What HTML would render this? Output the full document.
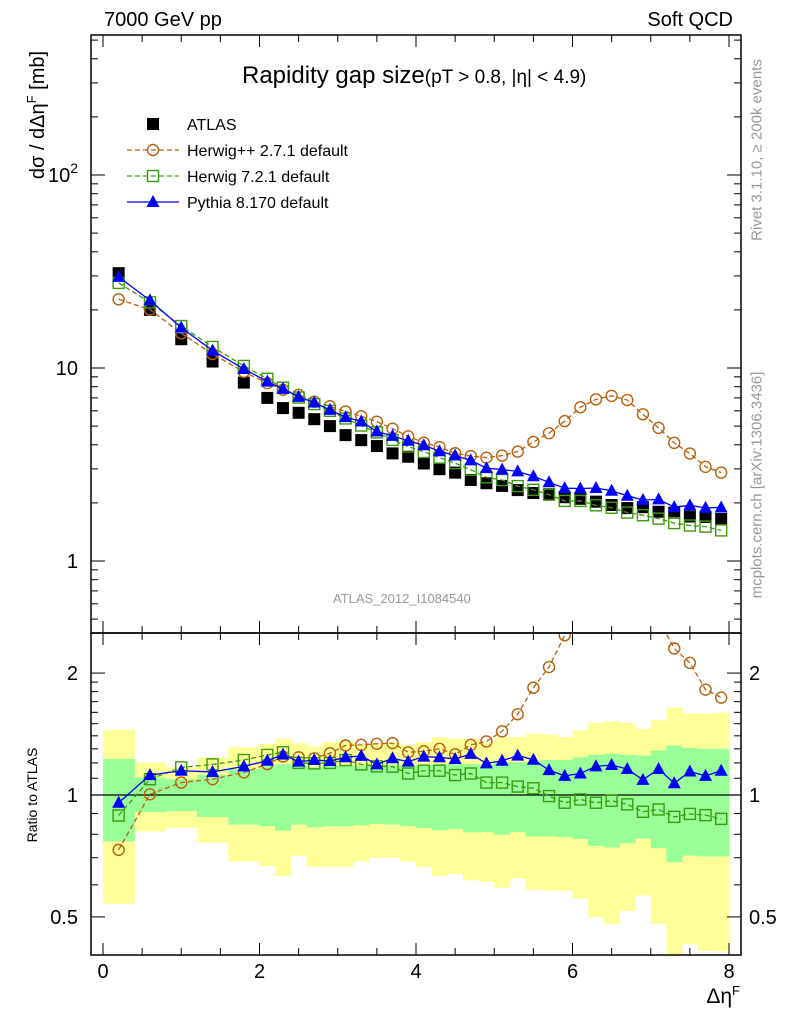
<!DOCTYPE html>
<html><head><meta charset="utf-8"><style>
body{margin:0;background:#fff;}
svg{display:block;font-family:"Liberation Sans",sans-serif;}
</style></head><body>
<svg id="c" width="786" height="1024" viewBox="0 0 786 1024"></svg>
<script>
const binEdges=[0,0.4,0.8,1.2,1.6,2.0,2.2,2.4,2.6,2.8,3.0,3.2,3.4,3.6,3.8,4.0,4.2,4.4,4.6,4.8,5.0,5.2,5.4,5.6,5.8,6.0,6.2,6.4,6.6,6.8,7.0,7.2,7.4,7.6,7.8,8.0];
const atlasData=[31,20,14.1,10.8,8.4,7.0,6.2,5.86,5.43,5.0,4.49,4.23,3.94,3.61,3.47,3.2,2.99,2.87,2.63,2.53,2.45,2.33,2.25,2.22,2.14,2.10,2.03,1.95,1.88,1.90,1.80,1.78,1.70,1.69,1.65];
const ratioHerwigPP=[0.732,1.004,1.073,1.094,1.137,1.192,1.244,1.239,1.232,1.268,1.325,1.33,1.338,1.343,1.275,1.282,1.3,1.26,1.33,1.356,1.436,1.583,1.84,2.07,2.48,2.98,3.39,3.68,3.63,3.03,2.72,2.30,2.12,1.82,1.74];
const ratioHerwig7=[0.89,1.094,1.17,1.19,1.22,1.256,1.275,1.2,1.197,1.2,1.22,1.19,1.177,1.175,1.13,1.148,1.148,1.12,1.13,1.073,1.073,1.049,1.039,0.994,0.957,0.975,0.957,0.968,0.948,0.909,0.921,0.883,0.898,0.892,0.873];
const ratioPythia=[0.957,1.12,1.148,1.14,1.177,1.215,1.258,1.209,1.22,1.213,1.239,1.249,1.19,1.232,1.209,1.244,1.239,1.227,1.263,1.197,1.215,1.251,1.222,1.152,1.115,1.13,1.177,1.186,1.159,1.09,1.159,1.069,1.143,1.115,1.148];
const bandTotalHi=[1.45,1.204,1.17,1.239,1.312,1.338,1.377,1.343,1.317,1.35,1.356,1.338,1.343,1.35,1.33,1.35,1.39,1.377,1.377,1.35,1.39,1.39,1.417,1.409,1.39,1.444,1.506,1.52,1.506,1.458,1.529,1.645,1.589,1.589,1.598];
const bandTotalLo=[0.539,0.813,0.829,0.763,0.685,0.668,0.631,0.708,0.665,0.663,0.663,0.685,0.7,0.7,0.685,0.663,0.632,0.638,0.616,0.61,0.59,0.622,0.584,0.58,0.58,0.555,0.499,0.48,0.517,0.565,0.48,0.396,0.428,0.412,0.411];
const bandStatHi=[1.227,1.105,1.094,1.122,1.159,1.181,1.192,1.181,1.17,1.181,1.186,1.181,1.188,1.186,1.181,1.186,1.192,1.192,1.192,1.188,1.204,1.204,1.211,1.22,1.22,1.239,1.256,1.263,1.256,1.251,1.287,1.325,1.305,1.3,1.3];
const bandStatLo=[0.768,0.907,0.912,0.882,0.845,0.837,0.816,0.845,0.832,0.837,0.837,0.842,0.848,0.845,0.837,0.829,0.818,0.824,0.809,0.81,0.798,0.81,0.79,0.79,0.787,0.778,0.749,0.742,0.76,0.78,0.739,0.682,0.709,0.705,0.705];
const xTickLabels=["0","2","4","6","8"];

const NS="http://www.w3.org/2000/svg";
const svg=document.getElementById('c');
function el(tag,attrs,parent){const e=document.createElementNS(NS,tag);for(const k in attrs)e.setAttribute(k,attrs[k]);(parent||svg).appendChild(e);return e;}
const X0=91,X1=741;
function xs(v){return 103+v*78.25;}
const MT=35,MB=633,RT=633,RB=955;
function ym(v){return 561-193*Math.log10(v);}
function yr(v){return 795-405*Math.log10(v);}
const centers=binEdges.slice(0,-1).map((e,i)=>(e+binEdges[i+1])/2);

const defs=el('defs',{});
const cm=el('clipPath',{id:'cm'},defs);el('rect',{x:X0,y:MT,width:X1-X0,height:MB-MT},cm);
const cr=el('clipPath',{id:'cr'},defs);el('rect',{x:X0,y:RT,width:X1-X0,height:RB-RT},cr);

const gr=el('g',{'clip-path':'url(#cr)'});


for(let i=0;i<centers.length;i++){
  const r=el('rect',{x:xs(binEdges[i]),width:xs(binEdges[i+1])-xs(binEdges[i])+0.5,y:yr(bandTotalHi[i]),height:yr(bandTotalLo[i])-yr(bandTotalHi[i]),fill:'#ffff99'},gr);
  
  
}
for(let i=0;i<centers.length;i++){
  const r=el('rect',{x:xs(binEdges[i]),width:xs(binEdges[i+1])-xs(binEdges[i])+0.5,y:yr(bandStatHi[i]),height:yr(bandStatLo[i])-yr(bandStatHi[i]),fill:'#99ff99'},gr);
  
  
}
el('line',{x1:X0,x2:X1,y1:yr(1),y2:yr(1),stroke:'#000','stroke-width':1.3},gr);

function marker(type,x,y,color,parent){
  if(type==='circle')return el('circle',{cx:x,cy:y,r:5.5,fill:'none',stroke:color,'stroke-width':1.4},parent);
  if(type==='square')return el('rect',{x:x-5.5,y:y-5.5,width:11,height:11,fill:'none',stroke:color,'stroke-width':1.4},parent);
  if(type==='tri')return el('polygon',{points:`${x},${y-7} ${x-6.5},${y+5} ${x+6.5},${y+5}`,fill:color},parent);
  if(type==='fsq')return el('rect',{x:x-6,y:y-6,width:12,height:12,fill:'#000'},parent);
}
function series(vals,yfun,color,type,dash,parent,name){
  const g=el('g',{},parent);
  
  
  if(type!=='fsq'){
    const pts=vals.map((v,i)=>xs(centers[i])+','+yfun(v)).join(' ');
    el('polyline',{points:pts,fill:'none',stroke:color,'stroke-width':1.3,'stroke-dasharray':dash||'none'},g);
  }
  vals.forEach((v,i)=>{const m=marker(type,xs(centers[i]),yfun(v),color,g);
    
    });
}
const cH='#b8600c',cG='#3c9a0c',cP='#0000ff';
series(ratioHerwigPP,yr,cH,'circle','5,3',gr,'ratio-herwigpp');
series(ratioHerwig7,yr,cG,'square','5,3',gr,'ratio-herwig7');
series(ratioPythia,yr,cP,'tri',null,gr,'ratio-pythia');

const gm=el('g',{'clip-path':'url(#cm)'});


series(atlasData,ym,'#000','fsq',null,gm,'atlas-data');
series(atlasData.map((d,i)=>d*ratioHerwigPP[i]),ym,cH,'circle','5,3',gm,'herwigpp-series');
series(atlasData.map((d,i)=>d*ratioHerwig7[i]),ym,cG,'square','5,3',gm,'herwig7-series');
series(atlasData.map((d,i)=>d*ratioPythia[i]),ym,cP,'tri',null,gm,'pythia-series');

el('rect',{x:X0,y:MT,width:X1-X0,height:MB-MT,fill:'none',stroke:'#000','stroke-width':1.5});
el('rect',{x:X0,y:RT,width:X1-X0,height:RB-RT,fill:'none',stroke:'#000','stroke-width':1.5});
for(let v=0;v<=8.01;v+=0.5){
  const x=xs(v),L=(Math.abs(v%2)<0.01)?12:7;
  [[MT,1],[MB,-1],[RT,1],[RB,-1]].forEach(([y,d])=>el('line',{x1:x,x2:x,y1:y,y2:y+d*L,stroke:'#000','stroke-width':1}));
}
xTickLabels.forEach((t,i)=>{const e=el('text',{x:xs(i*2),y:978,'font-size':20,'text-anchor':'middle'});e.textContent=t;
  
  });
for(let d=-1;d<=2;d++){for(let m=1;m<10;m++){const v=m*Math.pow(10,d);const y=ym(v);if(y<MT||y>MB)continue;const L=m===1?14:7;
  el('line',{x1:X0,x2:X0+L,y1:y,y2:y,stroke:'#000'});el('line',{x1:X1,x2:X1-L,y1:y,y2:y,stroke:'#000'});}}
[['1',1],['10',10]].forEach(([t,v])=>{const e=el('text',{x:78,y:ym(v)+7,'font-size':20,'text-anchor':'end'});e.textContent=t;
  });
{const e=el('text',{x:78,y:ym(100)+7,'font-size':20,'text-anchor':'end'});e.innerHTML='10<tspan dy="-9" font-size="14">2</tspan>';
 }
[0.5,0.6,0.7,0.8,0.9,1,1.1,1.2,1.3,1.4,1.5,1.6,1.7,1.8,1.9,2].forEach(v=>{const y=yr(v);const L=(v===0.5||v===1||v===2)?14:7;
  el('line',{x1:X0,x2:X0+L,y1:y,y2:y,stroke:'#000'});el('line',{x1:X1,x2:X1-L,y1:y,y2:y,stroke:'#000'});});
[['2',2],['1',1],['0.5',0.5]].forEach(([t,v])=>{
  const a=el('text',{x:78,y:yr(v)+7,'font-size':20,'text-anchor':'end'});a.textContent=t;
  
  const b=el('text',{x:749,y:yr(v)+7,'font-size':20,'text-anchor':'start'});b.textContent=t;
  });

const leg=el('g',{});


const legItems=[['ATLAS','fsq','#000',null],['Herwig++ 2.7.1 default','circle',cH,'5,3'],['Herwig 7.2.1 default','square',cG,'5,3'],['Pythia 8.170 default','tri',cP,null]];
legItems.forEach((it,i)=>{const y=124+i*26;
  const g=el('g',{},leg);
  
  
  if(it[1]!=='fsq')el('line',{x1:127,x2:179,y1:y,y2:y,stroke:it[2],'stroke-width':1.3,'stroke-dasharray':it[3]||'none'},g);
  marker(it[1],153,y,it[2],g);
  const t=el('text',{x:187,y:y+6,'font-size':16},g);t.textContent=it[0];});
</script>
<div style="position:absolute;left:0;top:0;width:786px;height:1024px;pointer-events:none;font-family:'Liberation Sans',sans-serif;">
<div style="position:absolute;left:104px;top:9px;font-size:20px;">7000 GeV pp</div>
<div style="position:absolute;right:53px;top:9px;font-size:20px;">Soft QCD</div>
<div style="position:absolute;left:242px;top:62px;font-size:24px;white-space:nowrap;">Rapidity gap size<span style="font-size:19px;">(pT &gt; 0.8, |η| &lt; 4.9)</span></div>
<div style="position:absolute;left:333px;top:591px;font-size:13px;color:#999;">ATLAS_2012_I1084540</div>
<div style="position:absolute;right:46px;top:983px;font-size:21px;">Δη<sup style="font-size:13px;">F</sup></div>
<div style="position:absolute;left:37px;top:115px;font-size:20px;white-space:nowrap;transform:translate(-50%,-50%) rotate(-90deg);">dσ / dΔη<sup style="font-size:13px;">F</sup> [mb]</div>
<div style="position:absolute;left:32px;top:795px;font-size:14px;white-space:nowrap;transform:translate(-50%,-50%) rotate(-90deg);">Ratio to ATLAS</div>
<div style="position:absolute;left:757px;top:150px;font-size:15px;color:#999;white-space:nowrap;transform:translate(-50%,-50%) rotate(-90deg);">Rivet 3.1.10, ≥ 200k events</div>
<div style="position:absolute;left:757px;top:485px;font-size:15px;color:#999;white-space:nowrap;transform:translate(-50%,-50%) rotate(-90deg);">mcplots.cern.ch [arXiv:1306.3436]</div>
</div>
</body></html>
